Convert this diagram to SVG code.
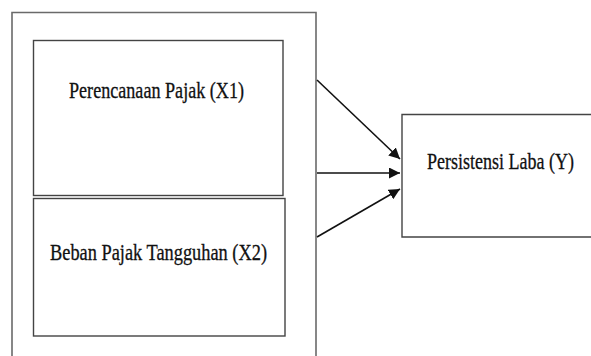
<svg xmlns="http://www.w3.org/2000/svg" width="591" height="356" viewBox="0 0 591 356">
<style>
.box{fill:#fff;stroke:#444;stroke-width:1.4}
.outer{fill:none;stroke:#6a6a6a;stroke-width:1.6}
.lbl{font-family:"Liberation Serif","Times New Roman",serif;font-size:19px;fill:#111;stroke:#111;stroke-width:0.25}
.conn{stroke:#111;stroke-width:1.6;fill:none}
</style>
<defs>
<marker id="ah" markerWidth="11" markerHeight="11" viewBox="0 0 10 10" refX="10" refY="5" orient="auto" markerUnits="userSpaceOnUse">
<path d="M0,0 L10,5 L0,10 Z" fill="#111"/>
</marker>
</defs>
<rect width="591" height="356" fill="#fff"/>
<g id="outer">
<path class="outer" d="M12,360 L12,12.5 L316,12.5 L316,360"/>
</g>
<g id="x1">
<rect class="box" x="33.5" y="40.5" width="249.5" height="155"/>
<text class="lbl" transform="translate(69,98) scale(1,1.2)" x="0" y="0" textLength="175" lengthAdjust="spacingAndGlyphs">Perencanaan Pajak (X1)</text>
</g>
<g id="x2">
<rect class="box" x="33.5" y="198.5" width="251.5" height="137.5"/>
<text class="lbl" transform="translate(50,260) scale(1,1.2)" x="0" y="0" textLength="217" lengthAdjust="spacingAndGlyphs">Beban Pajak Tangguhan (X2)</text>
</g>
<g id="y">
<path class="box" d="M591,114.5 L402,114.5 L402,237 L591,237"/>
<text class="lbl" transform="translate(427,169) scale(1,1.2)" x="0" y="0" textLength="147" lengthAdjust="spacingAndGlyphs">Persistensi Laba (Y)</text>
</g>
<g id="connectors">
<line class="conn" x1="317" y1="80" x2="400" y2="159" marker-end="url(#ah)"/>
<line class="conn" x1="317" y1="173" x2="400" y2="173" marker-end="url(#ah)"/>
<line class="conn" x1="317" y1="237" x2="400" y2="189" marker-end="url(#ah)"/>
</g>
</svg>
